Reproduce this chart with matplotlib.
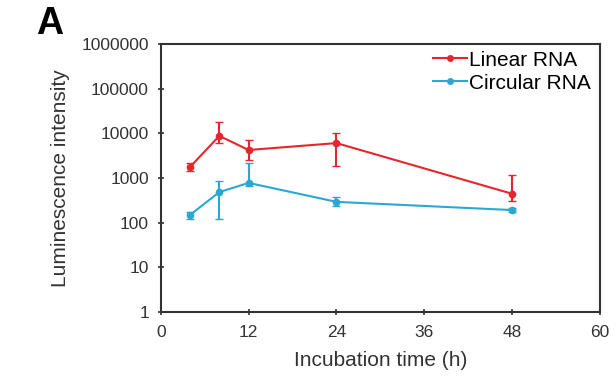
import matplotlib
matplotlib.use('Agg')
import matplotlib.pyplot as plt
import numpy as np

# time points (h)
hours = [4, 8, 12, 24, 48]

linear_mean = [1750, 8700, 4200, 6000, 440]
linear_lo = [1400, 6000, 2500, 1800, 300]
linear_hi = [2100, 18000, 7000, 10000, 1150]

circ_mean = [148, 480, 770, 290, 190]
circ_lo = [118, 120, 650, 230, 170]
circ_hi = [170, 850, 2150, 380, 210]

x_ticks = [0, 12, 24, 36, 48, 60]
y_ticks = [1, 10, 100, 1000, 10000, 100000, 1000000]

plt.rcParams['font.family'] = ['Liberation Sans', 'DejaVu Sans']

fig = plt.figure(figsize=(6.16, 3.78), dpi=100)
ax = fig.add_axes([0.261, 0.175, 0.713, 0.709])

red = '#e5262e'
blue = '#2aa8d2'

lm = np.array(linear_mean)
cm = np.array(circ_mean)
eb1 = ax.errorbar(hours, lm, yerr=[lm - np.array(linear_lo), np.array(linear_hi) - lm],
                  color=red, marker='o', ms=4.5, lw=1.5, capsize=3, elinewidth=1.5)
eb2 = ax.errorbar(hours, cm, yerr=[cm - np.array(circ_lo), np.array(circ_hi) - cm],
                  color=blue, marker='o', ms=4.5, lw=1.5, capsize=3, elinewidth=1.5)

ax.set_yscale('log')
ax.set_xlim(0, 60)
ax.set_ylim(1, 1000000)
ax.set_xticks(x_ticks)
ax.set_yticks(y_ticks)
ax.set_yticklabels([str(v) for v in y_ticks])
ax.minorticks_off()
ax.tick_params(direction='inout', length=5, width=1.2, labelsize=12.5,
               colors='#333333')
ax.tick_params(axis='y', pad=6)
ax.tick_params(axis='x', pad=7)
for s in ax.spines.values():
    s.set_linewidth(1.5)
    s.set_color('#333333')

ax.set_xlabel('Incubation time (h)', fontsize=15, color='#333333', labelpad=8)
ax.set_ylabel('Luminescence intensity', fontsize=15, color='#333333', labelpad=8)

leg = ax.legend([eb1[0], eb2[0]], ['Linear RNA', 'Circular RNA'],
                loc='upper right', frameon=False, fontsize=15, handlelength=1.6,
                handletextpad=0.1, borderaxespad=0.05, labelspacing=0.2,
                bbox_to_anchor=(1.0, 1.01))
for h in leg.legend_handles:
    h.set_markersize(4)

fig.text(0.058, 0.91, 'A', fontsize=27, fontweight='bold')

fig.savefig('out.png', dpi=100)
